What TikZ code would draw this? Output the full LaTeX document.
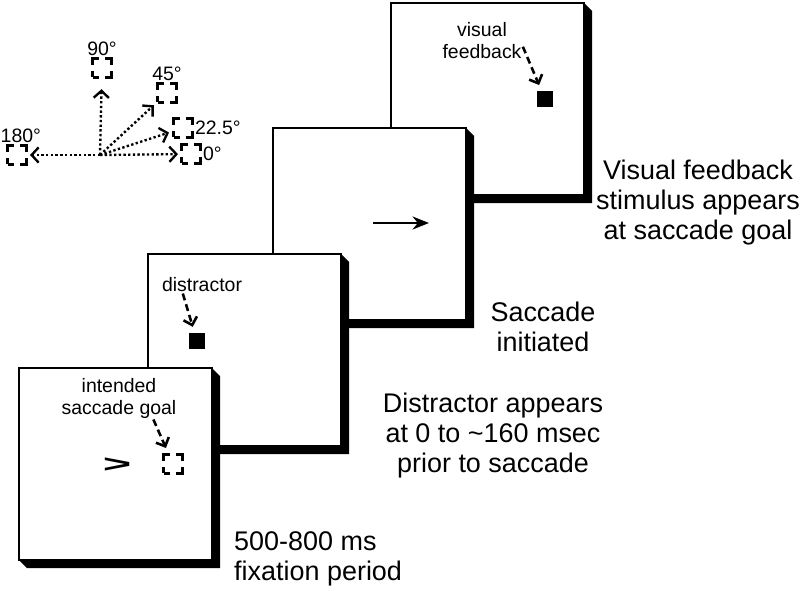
\documentclass[tikz,border=0pt]{standalone}
\usepackage{fontspec}
\setmainfont{Liberation Sans}
\usetikzlibrary{arrows.meta,positioning}

\tikzset{
  screen/.style={draw,fill=white,line width=1.4pt,minimum width=5.79cm,minimum height=5.76cm,anchor=north west},
  smalltext/.style={font=\fontsize{16.6}{18.8}\selectfont,inner sep=1pt,align=center},
  bigtext/.style={font=\fontsize{23}{25.6}\selectfont,inner sep=0pt,align=center},
  goalbox/.style={draw,line width=2.2pt,dash pattern=on 11pt off 5pt,dash phase=5.5pt,minimum size=16pt,inner sep=0pt},
  stimbox/.style={fill=black,minimum size=0.5cm,inner sep=0pt},
  dotarrow/.style={line width=2pt,dash pattern=on 2pt off 2pt,-{Straight Barb[length=6pt,width=13pt,line width=2pt]}},
  dasharrow/.style={line width=2.2pt,dash pattern=on 6pt off 3.5pt,-{Straight Barb[length=6pt,width=12pt,line width=2.2pt]},shorten >=5pt},
  movearrow/.style={line width=2.2pt,-{Stealth[length=14pt,width=11pt]}}
}

\begin{document}
\begin{tikzpicture}[x=0.03cm,y=-0.03cm]
  \useasboundingbox (0,0) rectangle (802,591);

  % direction legend
  \coordinate (o) at (100,155);
  \node[goalbox] (sq90)  at (102,68)  {};
  \node[goalbox] (sq45)  at (167,93)  {};
  \node[goalbox] (sq22)  at (183,128) {};
  \node[goalbox] (sq0)   at (191,154) {};
  \node[goalbox] (sq180) at (17,155)  {};
  \node[smalltext, above=0pt of sq90]  {90°};
  \node[smalltext, above=0pt of sq45]  {45°};
  \node[smalltext, right=0pt of sq22]  {22.5°};
  \node[smalltext, right=0pt of sq0]   {0°};
  \node[smalltext, anchor=south west, xshift=-6pt] at (sq180.north west) {180°};
  \draw[dotarrow, shorten >=9pt] (o) -- (sq90);
  \draw[dotarrow, shorten >=3pt] (o) -- (sq45);
  \draw[dotarrow, shorten >=3pt] (o) -- (sq22);
  \draw[dotarrow, shorten >=2pt] (o) -- (sq0);
  \draw[dotarrow, shorten >=2pt] (o) -- (sq180);

  % screens, back to front
  \foreach \x/\y/\n in {390/2/4, 272/127/3, 147/253/2, 18/367/1} {
    \fill (\x+193,\y) -- ++(9,9) -- ++(0,192) -- ++(-193,0) -- ++(-9,-9) -- cycle;
    \node[screen] (scr\n) at (\x,\y) {};
  }

  % screen 1: fixation
  \node[font=\fontsize{26}{26}\bfseries, inner sep=0pt] (fix) at (117,465) {\scalebox{1.6}[0.8]{>}};
  \node[goalbox] (goal1) at (173,464) {};
  \node[smalltext] (goallab) at (119,398) {intended\\saccade goal};
  \draw[dasharrow] (goallab.-32) -- (goal1);

  % screen 2: distractor
  \node[smalltext] (distlab) at (202,285) {distractor};
  \node[stimbox] (dist) at (197,341) {};
  \draw[dasharrow] (distlab.204) -- (dist);

  % screen 3: saccade
  \coordinate (mvstart) at (373,223);
  \coordinate (mvend) at (429,223);
  \draw[movearrow] (mvstart) -- (mvend);

  % screen 4: feedback
  \node[smalltext] (fblab) at (482,41) {visual\\feedback};
  \node[stimbox] (fb) at (545,99) {};
  \draw[dasharrow] (fblab.-8) -- (fb);

  % captions
  \node[bigtext, anchor=west, align=left] (cap1) at (234,559) {500-800 ms\\fixation period};
  \node[bigtext] (cap2) at (493,436) {Distractor appears\\at 0 to \textasciitilde160 msec\\prior to saccade};
  \node[bigtext] (cap3) at (543,327) {Saccade\\initiated};
  \node[bigtext] (cap4) at (698,203) {Visual feedback\\stimulus appears\\at saccade goal};
\end{tikzpicture}
\end{document}
